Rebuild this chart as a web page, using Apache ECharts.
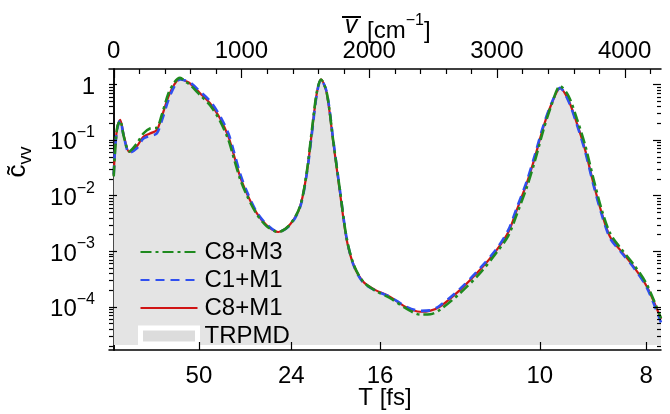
<!DOCTYPE html>
<html>
<head>
<meta charset="utf-8">
<script src="https://cdn.jsdelivr.net/npm/echarts@6/dist/echarts.min.js"></script>
<style>
html,body{margin:0;padding:0;background:#fff;}
#chart{width:670px;height:414px;}
</style>
</head>
<body>
<div id="chart"></div>
<script>
// wavenumber grid (cm^-1)
const WAVENUMBER = [0, 10, 28, 50, 81, 122, 180, 232, 284, 337, 376, 428, 475, 519, 560, 597, 676, 754, 832, 898, 937, 989, 1041, 1120, 1198, 1289, 1380, 1459, 1511, 1550, 1590, 1623, 1668, 1720, 1772, 1824, 1880, 1954, 2047, 2165, 2282, 2400, 2480, 2555, 2712, 2868, 2999, 3090, 3156, 3234, 3299, 3364, 3430, 3495, 3560, 3626, 3691, 3756, 3821, 3886, 3965, 4069, 4174, 4285];

const C8_M1 = [0.023, 0.066, 0.17, 0.23, 0.114, 0.061, 0.076, 0.114, 0.13, 0.15, 0.26, 0.6, 1.0, 1.28, 1.15, 1.04, 0.69, 0.455, 0.245, 0.114, 0.057, 0.022, 0.011, 0.0048, 0.0029, 0.0022, 0.0030, 0.0063, 0.025, 0.13, 0.69, 1.23, 0.69, 0.087, 0.011, 0.0016, 5.5e-4, 2.8e-4, 2.0e-4, 1.5e-4, 1.0e-4, 8.1e-5, 8.5e-5, 1.0e-4, 2.0e-4, 4.6e-4, 1.05e-3, 2.2e-3, 5.5e-3, 0.0166, 0.05, 0.17, 0.455, 0.85, 0.52, 0.2, 0.066, 0.0166, 0.0048, 0.0018, 1.05e-3, 5.3e-4, 2.3e-4, 6.0e-5];

const C1_M1 = [0.024, 0.065, 0.16, 0.22, 0.11, 0.058, 0.07, 0.105, 0.118, 0.13, 0.22, 0.52, 0.92, 1.22, 1.17, 1.08, 0.74, 0.5, 0.27, 0.13, 0.066, 0.025, 0.012, 0.005, 0.003, 0.0022, 0.0029, 0.0061, 0.024, 0.12, 0.66, 1.2, 0.72, 0.095, 0.012, 0.0017, 5.4e-4, 2.7e-4, 1.95e-4, 1.5e-4, 1.02e-4, 8.4e-5, 8.6e-5, 1.05e-4, 2.1e-4, 4.9e-4, 1.1e-3, 2.4e-3, 6.0e-3, 0.018, 0.055, 0.18, 0.47, 0.86, 0.5, 0.19, 0.062, 0.0155, 0.0045, 0.0017, 1.0e-3, 5.1e-4, 2.2e-4, 5.2e-5];

const C8_M3 = [0.022, 0.06, 0.17, 0.22, 0.11, 0.062, 0.085, 0.13, 0.16, 0.165, 0.28, 0.68, 1.08, 1.3, 1.12, 0.98, 0.64, 0.42, 0.22, 0.1, 0.05, 0.02, 0.0102, 0.0046, 0.0028, 0.0022, 0.0030, 0.0064, 0.026, 0.14, 0.72, 1.22, 0.7, 0.09, 0.012, 0.0017, 5.6e-4, 2.8e-4, 1.95e-4, 1.42e-4, 9.5e-5, 7.2e-5, 7.3e-5, 8.8e-5, 1.75e-4, 4.0e-4, 9.5e-4, 1.9e-3, 4.6e-3, 0.014, 0.043, 0.15, 0.44, 0.93, 0.62, 0.24, 0.08, 0.02, 0.0055, 0.0021, 1.15e-3, 5.8e-4, 2.5e-4, 6.2e-5];

const TRPMD = [0.023, 0.066, 0.17, 0.23, 0.114, 0.061, 0.078, 0.118, 0.14, 0.155, 0.26, 0.6, 1.0, 1.27, 1.14, 1.03, 0.68, 0.45, 0.24, 0.112, 0.056, 0.022, 0.011, 0.0048, 0.0029, 0.0022, 0.0030, 0.0063, 0.025, 0.13, 0.69, 1.22, 0.69, 0.088, 0.011, 0.0016, 5.5e-4, 2.8e-4, 2.0e-4, 1.5e-4, 1.0e-4, 8.0e-5, 8.4e-5, 1.0e-4, 2.0e-4, 4.6e-4, 1.05e-3, 2.2e-3, 5.5e-3, 0.0166, 0.05, 0.17, 0.45, 0.86, 0.53, 0.2, 0.066, 0.0166, 0.0048, 0.0018, 1.05e-3, 5.3e-4, 2.3e-4, 6.0e-5];
const TRPMD_BASE = 2.05e-5; // lower edge of the grey fill

// tick labels
const TOP_LABELS = [0, 1000, 2000, 3000, 4000];
const TOP_MINOR = [200, 400, 600, 800, 1200, 1400, 1600, 1800, 2200, 2400, 2600, 2800, 3200, 3400, 3600, 3800, 4200];
const PERIOD_LABELS = [50, 24, 16, 10, 8]; // fs
const Y_DECADES = [1e-4, 1e-3, 1e-2, 1e-1, 1];
const Y_MINOR = [];
[1e-5, 1e-4, 1e-3, 1e-2, 1e-1].forEach(function (d) { for (let k = 2; k <= 9; k++) Y_MINOR.push(k * d); });

const XMIN = -37, XMAX = 4285, YMIN = 1.66e-5, YMAX = 1.88;
const CM_FS = 33356.41; // nu[cm^-1] * T[fs]
const PERIOD_POS = PERIOD_LABELS.map(function (t) { return CM_FS / t; });

const FONT = 'Liberation Sans, Arial, Helvetica, sans-serif';

function pairs(arr) { return WAVENUMBER.map(function (x, i) { return [x, arr[i]]; }); }

const supRich = {
  b: { fontSize: 24, lineHeight: 30, verticalAlign: 'bottom', fontFamily: FONT, color: '#000' },
  sup: { fontSize: 16, lineHeight: 16, verticalAlign: 'top', fontFamily: FONT, color: '#000' }
};

function yAxisBase(pos, showLabel) {
  return {
    type: 'log', logBase: 10, min: YMIN, max: YMAX, position: pos,
    axisLine: { show: true, lineStyle: { color: '#000', width: 1.5 } },
    axisTick: { show: false },
    axisLabel: showLabel ? {
      show: true, customValues: Y_DECADES, margin: 14,
      formatter: function (v) {
        const e = Math.round(Math.log10(v));
        if (e === 0) return '{b|1}';
        return '{b|10}{sup|\u2212' + (-e) + '}';
      },
      rich: supRich
    } : { show: false },
    splitLine: { show: false }
  };
}

// tick marks drawn through the axes' scales
function xTickSeries(values, len, side) {
  return {
    type: 'custom', xAxisIndex: 0, yAxisIndex: 0, silent: true, clip: false, z: 10,
    data: values.map(function (v) { return [v, YMAX]; }),
    renderItem: function (params, api) {
      const cs = params.coordSys;
      const x = Math.round(api.coord([api.value(0), YMAX])[0]) + 0.5;
      const y0 = side === 'top' ? cs.y : cs.y + cs.height;
      const y1 = side === 'top' ? y0 + len : y0 - len;
      return { type: 'line', shape: { x1: x, y1: y0, x2: x, y2: y1 }, style: { stroke: '#000', lineWidth: 1.2 } };
    }
  };
}
function yTickSeries(values, len) {
  return {
    type: 'custom', xAxisIndex: 0, yAxisIndex: 0, silent: true, clip: false, z: 10,
    data: values.map(function (v) { return [XMIN, v]; }),
    renderItem: function (params, api) {
      const cs = params.coordSys;
      const y = Math.round(api.coord([XMIN, api.value(1)])[1]) + 0.5;
      return {
        type: 'group', children: [
          { type: 'line', shape: { x1: cs.x, y1: y, x2: cs.x + len, y2: y }, style: { stroke: '#000', lineWidth: 1.2 } },
          { type: 'line', shape: { x1: cs.x + cs.width, y1: y, x2: cs.x + cs.width - len, y2: y }, style: { stroke: '#000', lineWidth: 1.2 } }
        ]
      };
    }
  };
}

const chart = echarts.init(document.getElementById('chart'), null, { renderer: 'canvas' });

const lineCommon = { type: 'line', symbol: 'none', smooth: 0.3, xAxisIndex: 0, yAxisIndex: 0 };
const hiddenSym = { color: 'rgba(0,0,0,0)', borderWidth: 0, opacity: 0 };

chart.setOption({
  animation: false,
  backgroundColor: '#fff',
  textStyle: { fontFamily: FONT },
  grid: { left: 109, right: 9, top: 69, bottom: 64, outerBoundsMode: 'none', containLabel: false },
  xAxis: [
    {
      type: 'value', position: 'top', min: XMIN, max: XMAX,
      axisLine: { show: true, lineStyle: { color: '#000', width: 1.5 } },
      axisTick: { show: false },
      axisLabel: { show: true, customValues: TOP_LABELS, fontSize: 24, margin: 6, color: '#000', fontFamily: FONT,
        formatter: function (v) { return String(v); } },
      splitLine: { show: false }
    },
    {
      type: 'value', position: 'bottom', min: XMIN, max: XMAX,
      axisLine: { show: true, lineStyle: { color: '#000', width: 1.5 } },
      axisTick: { show: false },
      axisLabel: {
        show: true, customValues: PERIOD_POS, fontSize: 24, margin: 14, color: '#000', fontFamily: FONT,
        formatter: function (v) { return String(Math.round(CM_FS / v)); }
      },
      splitLine: { show: false },
      name: 'T [fs]', nameLocation: 'middle', nameGap: 36, nameMoveOverlap: false,
      nameTextStyle: { fontSize: 24, color: '#000', fontFamily: FONT }
    }
  ],
  yAxis: [
    yAxisBase('left', true),
    yAxisBase('right', false)
  ],
  legend: {
    orient: 'vertical', left: 133, top: 235, itemGap: 4,
    itemWidth: 57, itemHeight: 16,
    textStyle: { fontSize: 24, color: '#000', fontFamily: FONT, padding: [0, 0, 0, 2] },
    data: [
      { name: 'C8+M3', itemStyle: hiddenSym },
      { name: 'C1+M1', itemStyle: hiddenSym },
      { name: 'C8+M1', itemStyle: hiddenSym },
      { name: 'TRPMD', icon: 'rect', itemStyle: { color: '#dcdcdc', borderColor: '#ffffff', borderWidth: 5 } }
    ]
  },
  graphic: [
    {
      type: 'text', x: 20, y: 162, rotation: Math.PI / 2,
      style: {
        text: '{c|c\u0303}{sub|vv}', align: 'center', verticalAlign: 'middle',
        rich: {
          c: { fontSize: 26, lineHeight: 30, verticalAlign: 'top', fontFamily: FONT, fill: '#000', color: '#000' },
          sub: { fontSize: 18, lineHeight: 18, verticalAlign: 'bottom', fontFamily: FONT, fill: '#000', color: '#000' }
        }
      }
    },
    {
      type: 'text', x: 351, y: 39,
      style: { text: 'v', font: 'italic 25px ' + FONT, fill: '#000', align: 'center', verticalAlign: 'bottom' }
    },
    {
      type: 'line', shape: { x1: 342, y1: 17, x2: 361, y2: 17 }, style: { stroke: '#000', lineWidth: 2 }
    },
    {
      type: 'text', x: 367, y: 28,
      style: {
        text: '{b|[cm}{sup|\u22121}{b|]}', align: 'left', verticalAlign: 'middle',
        rich: supRich
      }
    }
  ],
  series: [
    Object.assign({}, lineCommon, {
      name: 'TRPMD', data: pairs(TRPMD), z: 1,
      lineStyle: { width: 0, color: '#e4e4e4' }, itemStyle: { color: '#dcdcdc' },
      areaStyle: { color: '#e4e4e4', opacity: 1, origin: TRPMD_BASE }
    }),
    Object.assign({}, lineCommon, {
      name: 'C8+M1', data: pairs(C8_M1), z: 3,
      lineStyle: { width: 2.2, color: '#d01414', type: 'solid' }, itemStyle: { color: '#d01414' }
    }),
    Object.assign({}, lineCommon, {
      name: 'C1+M1', data: pairs(C1_M1), z: 4,
      lineStyle: { width: 2.6, color: '#2f4ff0', type: [9, 6] }, itemStyle: { color: '#2f4ff0' }
    }),
    Object.assign({}, lineCommon, {
      name: 'C8+M3', data: pairs(C8_M3), z: 5,
      lineStyle: { width: 2.6, color: '#1f8a1f', type: [11, 4, 3, 4] }, itemStyle: { color: '#1f8a1f' }
    }),
    xTickSeries(TOP_MINOR, 5, 'top'),
    xTickSeries(TOP_LABELS, 9, 'top'),
    xTickSeries(PERIOD_POS, 8, 'bottom'),
    yTickSeries(Y_DECADES, 8),
    yTickSeries(Y_MINOR, 4)
  ]
});
</script>
</body>
</html>
